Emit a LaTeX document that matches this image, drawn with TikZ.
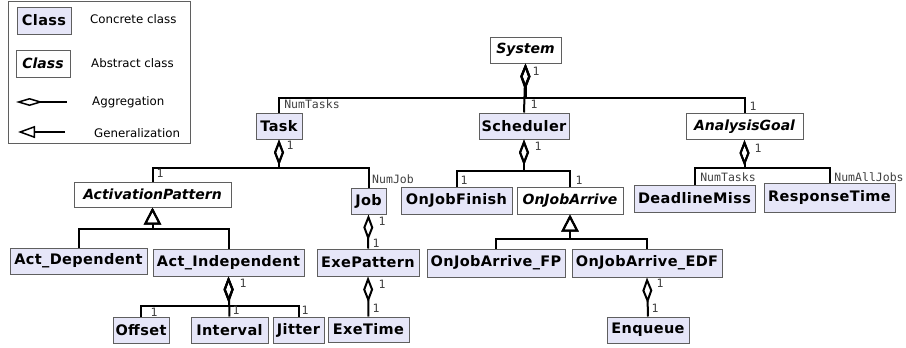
\documentclass[tikz,border=0pt]{standalone}
\usepackage{fontspec}
\setmainfont{DejaVu Sans}
\newfontfamily\multfont{DejaVu Sans Mono}
\newfontfamily\clsfont[LetterSpace=2.5]{DejaVu Sans}
\usepackage{tikz}
\usetikzlibrary{arrows.meta,positioning}

\definecolor{classfill}{RGB}{230,230,248}
\definecolor{classborder}{RGB}{95,95,95}

\tikzset{
	cls/.style={draw=classborder, line width=1pt, minimum height=26pt, inner xsep=2pt,
		font=\clsfont\fontsize{14.5}{16}\selectfont\bfseries},
	concrete/.style={cls, fill=classfill},
	abstract/.style={cls, fill=white, font=\fontsize{14}{16}\selectfont\bfseries\itshape},
	assoc/.style={line width=2pt},
	agg/.style={assoc, {Diamond[open, length=26pt, width=10pt]}-},
	gen/.style={assoc, -{Triangle[open, length=17pt, width=17pt]}},
	mult/.style={font=\fontsize{11.5}{12}\selectfont\multfont, text=black!75, inner sep=0pt},
	legtext/.style={font=\fontsize{11.8}{13}\selectfont, anchor=west, inner sep=0pt},
}

\begin{document}
\begin{tikzpicture}[x=1pt, y=-1pt]
	\useasboundingbox (0,0) rectangle (906,348);
	% legend
	\draw[classborder, line width=1pt] (8.5,1.5) rectangle (190,143.5);
	\node [concrete, minimum width=54pt, minimum height=27pt] (legc) at (44,20.5) {Class};
	\node [abstract, minimum width=54pt, minimum height=27pt] (lega) at (43,63.5) {Class};
	\node [legtext] (legct) at (90,19) {Concrete class};
	\node [legtext] (legat) at (91,63) {Abstract class};
	\node [legtext] (leggt) at (92,102) {Aggregation};
	\node [legtext] (legnt) at (94,133) {Generalization};
	\coordinate (aggl) at (16,102);
	\coordinate (aggr) at (67,102);
	\coordinate (genl) at (18,132);
	\coordinate (genr) at (65,132);
	\draw[line width=1.5pt, {Diamond[open, length=27pt, width=8pt]}-] (aggl) -- (aggr);
	\draw[line width=1.5pt, -{Triangle[open, length=17pt, width=12pt]}] (genr) -- (genl);
	%
	% classes
	\node [abstract, minimum width=71pt] (system) at (525.5,50) {System};
	\node [concrete, minimum width=46pt] (task) at (279,126) {Task};
	\node [concrete, minimum width=90pt] (scheduler) at (524,126) {Scheduler};
	\node [abstract, minimum width=117pt] (goal) at (744.5,126.5) {AnalysisGoal};
	\node [abstract, minimum width=157pt, minimum height=25pt] (actpat) at (152.5,194.5) {ActivationPattern};
	\node [concrete, minimum width=35pt] (job) at (368.5,201) {Job};
	\node [concrete, minimum width=111pt, minimum height=27pt] (finish) at (456.5,200.5) {OnJobFinish};
	\node [abstract, minimum width=106pt, minimum height=27pt] (arrive) at (570,200.5) {OnJobArrive};
	\node [concrete, minimum width=121pt, minimum height=27pt] (deadline) at (694.5,198.5) {DeadlineMiss};
	\node [concrete, minimum width=131pt, minimum height=29pt] (response) at (829.5,197.5) {ResponseTime};
	\node [concrete, minimum width=137pt] (actdep) at (78.5,261) {Act\_Dependent};
	\node [concrete, minimum width=151pt, minimum height=27pt] (actind) at (228.5,262.5) {Act\_Independent};
	\node [concrete, minimum width=102pt, minimum height=27pt] (exepat) at (368,262.5) {ExePattern};
	\node [concrete, minimum width=138pt, minimum height=28pt] (arrfp) at (496,263) {OnJobArrive\_FP};
	\node [concrete, minimum width=150pt, minimum height=28pt] (arredf) at (647,263) {OnJobArrive\_EDF};
	\node [concrete, minimum width=56pt] (offset) at (141,330) {Offset};
	\node [concrete, minimum width=77pt] (interval) at (229.5,330) {Interval};
	\node [concrete, minimum width=51pt] (jitter) at (298.5,330) {Jitter};
	\node [concrete, minimum width=81pt, minimum height=25pt] (exetime) at (368.5,329.5) {ExeTime};
	\node [concrete, minimum width=82pt] (enqueue) at (648,330) {Enqueue};
	%
	% aggregations
	\draw[agg] (system.south) -- (scheduler.north);
	\draw[agg] (system.south) -- ++(0,34) -| (task.north);
	\draw[agg] (system.south) -- ++(0,34) -| (goal.north);
	\draw[agg] (task.south) -- ++(0,28) -| (actpat.north);
	\draw[agg] (task.south) -- ++(0,28) -| (job.north);
	\draw[agg] (scheduler.south) -- ++(0,31) -| (finish.north);
	\draw[agg] (scheduler.south) -- ++(0,31) -| (arrive.north);
	\draw[agg] (goal.south) -- ++(0,28) -| (deadline.north);
	\draw[agg] (goal.south) -- ++(0,28) -| (response.north);
	\draw[agg] (job.south) -- (exepat.north);
	\draw[agg] (exepat.south) -- (exetime.north);
	\draw[agg] (actind.south) -- ++(0,29) -| (offset.north);
	\draw[agg] (actind.south) -- (interval.north);
	\draw[agg] (actind.south) -- ++(0,29) -| (jitter.north);
	\draw[agg] (arredf.south) -- (enqueue.north);
	%
	% generalizations
	\draw[gen] (actdep.north) |- ++(0,-19) -| (actpat.south);
	\draw[gen] (actind.north) |- ++(0,-20) -| (actpat.south);
	\draw[gen] (arrfp.north) |- ++(0,-10) -| (arrive.south);
	\draw[gen] (arredf.north) |- ++(0,-10) -| (arrive.south);
	%
	% multiplicities
	\node [mult] (m1) at (536,71) {1};
	\node [mult] (m2) at (534,104) {1};
	\node [mult] (m3) at (312,104) {NumTasks};
	\node [mult] (m4) at (753,106) {1};
	\node [mult] (m5) at (290,145) {1};
	\node [mult] (m6) at (160,173) {1};
	\node [mult] (m7) at (393,179) {NumJob};
	\node [mult] (m8) at (538,146) {1};
	\node [mult] (m9) at (464,180) {1};
	\node [mult] (m10) at (579,180) {1};
	\node [mult] (m11) at (758,148) {1};
	\node [mult] (m12) at (728,177) {NumTasks};
	\node [mult] (m13) at (869,177) {NumAllJobs};
	\node [mult] (m14) at (382,221) {1};
	\node [mult] (m15) at (376,243) {1};
	\node [mult] (m16) at (382,284) {1};
	\node [mult] (m17) at (376,308) {1};
	\node [mult] (m18) at (243,283) {1};
	\node [mult] (m19) at (154,312) {1};
	\node [mult] (m20) at (236,310) {1};
	\node [mult] (m21) at (305,310) {1};
	\node [mult] (m22) at (660,283) {1};
	\node [mult] (m23) at (655,308) {1};
\end{tikzpicture}
\end{document}
